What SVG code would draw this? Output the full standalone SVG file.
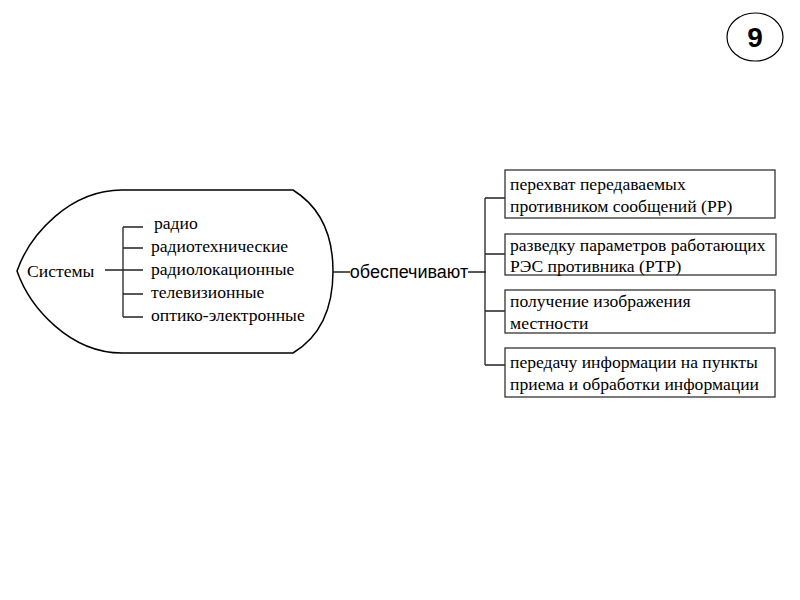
<svg xmlns="http://www.w3.org/2000/svg" width="800" height="600" viewBox="0 0 800 600">
<style>
.t{font-family:"Liberation Serif","Times New Roman",serif;font-size:17.6px;fill:#000}
.s{font-family:"Liberation Sans",Arial,sans-serif;font-size:18px;fill:#000}
.ln{stroke:#222;stroke-width:1.3;fill:none}
.bx{stroke:#333;stroke-width:1.3;fill:#fff}
</style>
<rect width="800" height="600" fill="#fff"/>
<g id="badge">
<ellipse cx="755" cy="37" rx="28" ry="24" fill="#fff" stroke="#000" stroke-width="1.2"/>
<text x="755" y="47" text-anchor="middle" style="font-family:'Liberation Sans',Arial,sans-serif;font-size:28px;font-weight:bold">9</text>
</g>
<g id="systems">
<path d="M122,190 L293,190 Q333,215 333,271 Q333,329 293,353 L122,353 C70,353 30,308 17,271 C30,234 70,190 122,190 Z" fill="#fff" stroke="#000" stroke-width="1.5"/>
<text class="t" x="27" y="277">Системы</text>
<text class="t" x="154" y="229">радио</text>
<text class="t" x="151" y="252">радиотехнические</text>
<text class="t" x="151" y="275">радиолокационные</text>
<text class="t" x="151" y="298">телевизионные</text>
<text class="t" x="151" y="321">оптико-электронные</text>
</g>
<g id="connectors">
<path class="ln" d="M105,270 H143 M123,227 V317 M123,227 H143 M123,248 H143 M123,294 H143 M123,317 H143"/>
<path class="ln" d="M333,272 H350 M468,272 H486 M485,198 V365 M485,198 H505 M485,254 H505 M485,311 H505 M485,365 H505"/>
</g>
<g id="provide">
<text class="s" x="409" y="278" text-anchor="middle">обеспечивают</text>
</g>
<g id="box1">
<rect class="bx" x="505" y="170" width="270" height="48"/>
<text class="t" x="510" y="190">перехват передаваемых</text>
<text class="t" x="510" y="212">противником сообщений (РР)</text>
</g>
<g id="box2">
<rect class="bx" x="505" y="234" width="271" height="41"/>
<text class="t" x="510" y="251">разведку параметров работающих</text>
<text class="t" x="510" y="272">РЭС противника (РТР)</text>
</g>
<g id="box3">
<rect class="bx" x="505" y="290" width="270" height="43"/>
<text class="t" x="510" y="307">получение изображения</text>
<text class="t" x="510" y="329">местности</text>
</g>
<g id="box4">
<rect class="bx" x="505" y="348" width="270" height="49"/>
<text class="t" x="510" y="368">передачу информации на пункты</text>
<text class="t" x="510" y="390">приема и обработки информации</text>
</g>
</svg>
